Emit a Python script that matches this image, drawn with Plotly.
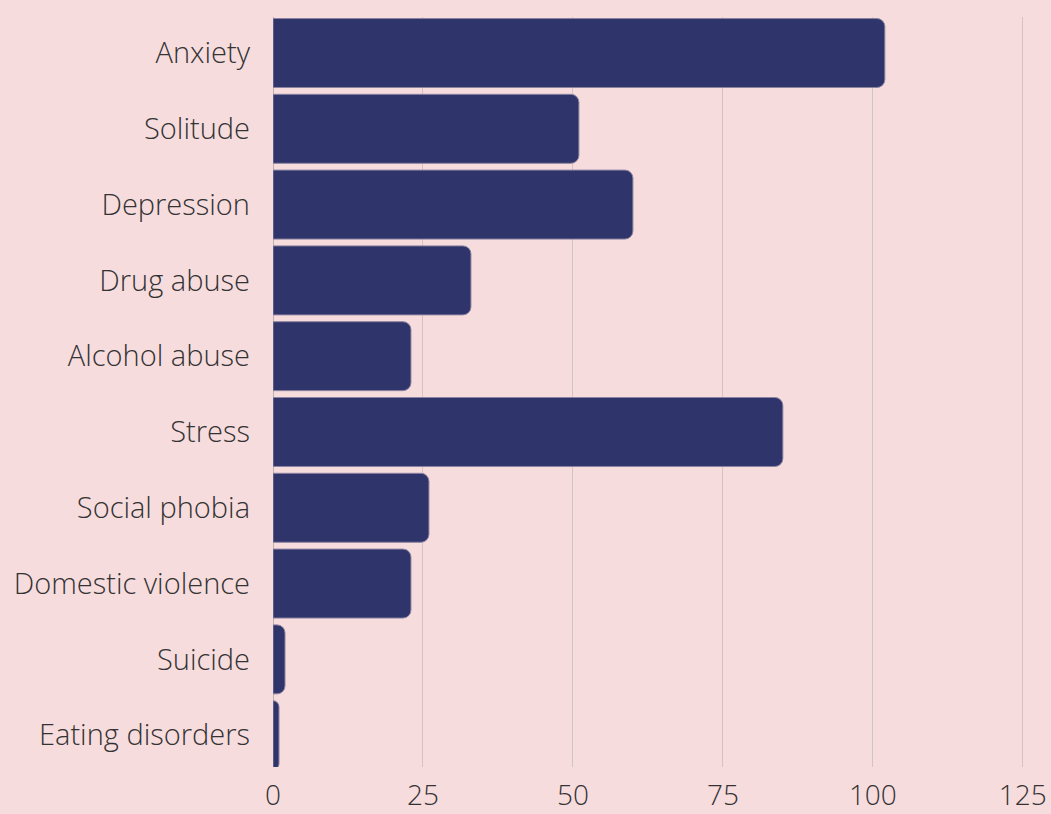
import plotly.graph_objects as go

categories = ["Anxiety", "Solitude", "Depression", "Drug abuse", "Alcohol abuse",
              "Stress", "Social phobia", "Domestic violence", "Suicide", "Eating disorders"]
values = [102, 51, 60, 33, 23, 85, 26, 23, 2, 1]
x_ticks = [0, 25, 50, 75, 100, 125]

bg = "#F7DCDE"
fig = go.Figure(go.Bar(
    x=values, y=categories, orientation="h",
    marker=dict(color="#2F346A", cornerradius=8, line=dict(width=1, color="#8A84A0")),
    hoverinfo="x+y",
))
fig.update_layout(
    width=1051, height=814,
    paper_bgcolor=bg, plot_bgcolor=bg,
    margin=dict(l=273, r=0, t=17, b=47),
    bargap=0.09,
    showlegend=False,
    font=dict(family="Open Sans", size=29, color="#333333", weight=300),
)
fig.update_xaxes(range=[0, 129.7], tickvals=x_ticks, showgrid=True, gridcolor="#D3C3C6",
                 gridwidth=1, zeroline=True, zerolinecolor="#BFB0B3", zerolinewidth=1,
                 showline=False, ticks="", ticklabelstandoff=9, automargin=False,
                 tickfont=dict(size=28, color="#333333", weight=300))
fig.update_yaxes(range=[9.42, -0.475], categoryorder="array", categoryarray=categories,
                 showgrid=False, zeroline=False, showline=False, ticks="", automargin=False,
                 ticklabelstandoff=22, tickfont=dict(size=29, color="#333333", weight=300))
fig.write_html("out.html", config={"displayModeBar": False},
               post_script="document.body.style.margin='0';document.body.style.background='%s';" % bg)
